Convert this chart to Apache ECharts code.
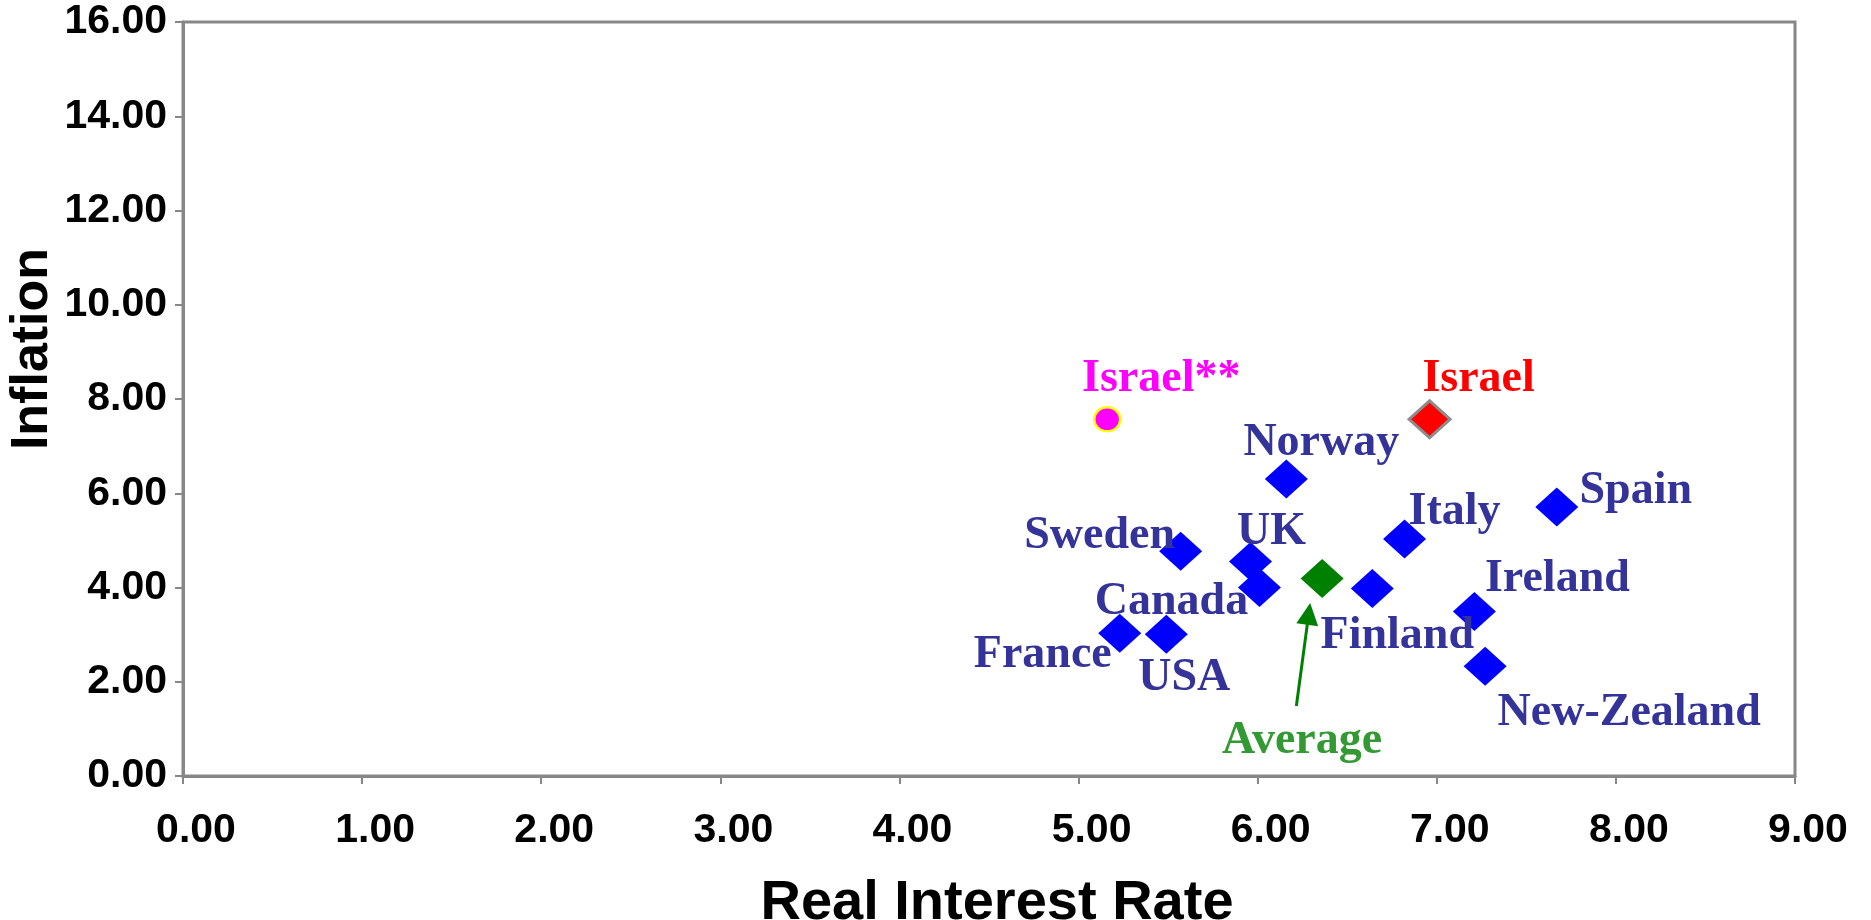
<!DOCTYPE html>
<html>
<head>
<meta charset="utf-8">
<title>Real Interest Rate vs Inflation</title>
<script src="https://cdn.jsdelivr.net/npm/echarts@6/dist/echarts.min.js"></script>
<style>
  html, body { margin: 0; padding: 0; background: #ffffff; }
  #chart { width: 1871px; height: 920px; }
</style>
</head>
<body>
<div id="chart"></div>
<script>
// Countries and their (real interest rate, inflation) pairs
const countries = ['Norway', 'Sweden', 'UK', 'Canada', 'France', 'USA', 'Finland', 'Italy', 'Spain', 'Ireland', 'New-Zealand'];
const realRate  = [6.16, 5.57, 5.96, 6.01, 5.23, 5.49, 6.64, 6.82, 7.67, 7.21, 7.27];
const inflation = [6.30, 4.77, 4.55, 4.00, 3.03, 3.01, 3.98, 5.03, 5.71, 3.49, 2.33];

// Highlighted points
const israelPoint    = [6.96, 7.57];
const israelAltPoint = [5.16, 7.57];
const averagePoint   = [6.36, 4.19];

// Arrow pointing at the average marker (data units)
const averageArrow = [[6.216, 1.485], [6.285, 3.44]];

// Axis ranges
const xRange = [0, 9, 1];
const yRange = [0, 16, 2];

// Label placement (pixel offsets from each marker's centre)
const labelOffsets = {
  'Norway': [35, -42],
  'Sweden': [-81, -21],
  'UK': [21, -35],
  'Canada': [-88, 9],
  'France': [-77, 16],
  'USA': [18, 38],
  'Finland': [25, 42],
  'Italy': [50, -33],
  'Spain': [79, -22],
  'Ireland': [83, -38],
  'New-Zealand': [144, 41],
  'Israel': [49, -46],
  'Israel**': [54, -46],
  'Average': [-20, 157]
};
// vertical correction between the text box middle and the capital-letter middle
const LABEL_BASELINE_SHIFT = 6;

const AXIS_GRAY = '#878787';
const LABEL_FONT = '"Liberation Serif", "DejaVu Serif", serif';
const AXIS_FONT = '"Liberation Sans", Arial, sans-serif';

function pointLabel(name, color) {
  const off = labelOffsets[name];
  return {
    show: true,
    position: 'inside',
    align: 'center',
    verticalAlign: 'middle',
    offset: [off[0], off[1] + LABEL_BASELINE_SHIFT],
    formatter: name,
    color: color,
    fontFamily: LABEL_FONT,
    fontWeight: 'bold',
    fontSize: 46
  };
}

const countryData = countries.map((name, i) => ({
  name: name,
  value: [realRate[i], inflation[i]],
  label: pointLabel(name, '#333399')
}));

const chart = echarts.init(document.getElementById('chart'), null, { renderer: 'canvas' });

chart.setOption({
  animation: false,
  backgroundColor: '#ffffff',
  grid: {
    left: 183, right: 76, top: 22, bottom: 144,
    outerBoundsMode: 'none',
    containLabel: false,
    show: true,
    borderColor: AXIS_GRAY,
    borderWidth: 3,
    backgroundColor: 'transparent'
  },
  xAxis: {
    type: 'value',
    min: xRange[0], max: xRange[1], interval: xRange[2],
    name: 'Real Interest Rate',
    nameLocation: 'middle',
    nameGap: 100,
    nameTextStyle: {
      fontFamily: AXIS_FONT, fontWeight: 'bold', fontSize: 56, color: '#000',
      padding: [0, 0, 0, 16]
    },
    axisLine: { show: true, lineStyle: { color: AXIS_GRAY, width: 3 } },
    axisTick: { show: true, inside: false, length: 8, lineStyle: { color: AXIS_GRAY, width: 2 } },
    splitLine: { show: false },
    axisLabel: {
      margin: 34,
      fontFamily: AXIS_FONT, fontWeight: 'bold', fontSize: 41, color: '#000',
      padding: [0, 0, 0, 26],
      formatter: v => v.toFixed(2)
    }
  },
  yAxis: {
    type: 'value',
    min: yRange[0], max: yRange[1], interval: yRange[2],
    axisLine: { show: true, lineStyle: { color: AXIS_GRAY, width: 3 } },
    axisTick: { show: true, inside: false, length: 8, lineStyle: { color: AXIS_GRAY, width: 2 } },
    splitLine: { show: false },
    axisLabel: {
      margin: 16,
      fontFamily: AXIS_FONT, fontWeight: 'bold', fontSize: 41, color: '#000',
      formatter: v => v.toFixed(2)
    }
  },
  graphic: [{
    type: 'text',
    x: 33,
    y: 349,
    rotation: Math.PI / 2,
    style: {
      text: 'Inflation',
      font: 'bold 52px ' + AXIS_FONT,
      fill: '#000',
      align: 'center',
      verticalAlign: 'middle'
    }
  }],
  series: [
    {
      name: 'Countries',
      type: 'scatter',
      symbol: 'diamond',
      symbolSize: [43, 39],
      itemStyle: { color: '#0000ff', opacity: 1 },
      data: countryData,
      z: 2
    },
    {
      name: 'Average',
      type: 'scatter',
      symbol: 'diamond',
      symbolSize: [43, 39],
      itemStyle: { color: '#008000', opacity: 1 },
      data: [{ name: 'Average', value: averagePoint, label: pointLabel('Average', '#339933') }],
      markLine: {
        silent: true,
        animation: false,
        symbol: ['none', 'triangle'],
        symbolSize: 22,
        itemStyle: { color: '#008000' },
        lineStyle: { color: '#008000', width: 3, type: 'solid', opacity: 1 },
        label: { show: false },
        data: [[{ coord: averageArrow[0] }, { coord: averageArrow[1] }]]
      },
      z: 3
    },
    {
      name: 'Israel',
      type: 'scatter',
      symbol: 'diamond',
      symbolSize: [41, 37],
      itemStyle: { color: '#ff0000', borderColor: '#8c8c8c', borderWidth: 3, opacity: 1 },
      data: [{ name: 'Israel', value: israelPoint, label: pointLabel('Israel', '#ff0000') }],
      z: 3
    },
    {
      name: 'Israel**',
      type: 'scatter',
      symbol: 'circle',
      symbolSize: [26, 24],
      itemStyle: { color: '#ff00ff', borderColor: '#ffff00', borderWidth: 2.5, opacity: 1 },
      data: [{ name: 'Israel**', value: israelAltPoint, label: pointLabel('Israel**', '#ff00ff') }],
      z: 3
    }
  ]
});
</script>
</body>
</html>
